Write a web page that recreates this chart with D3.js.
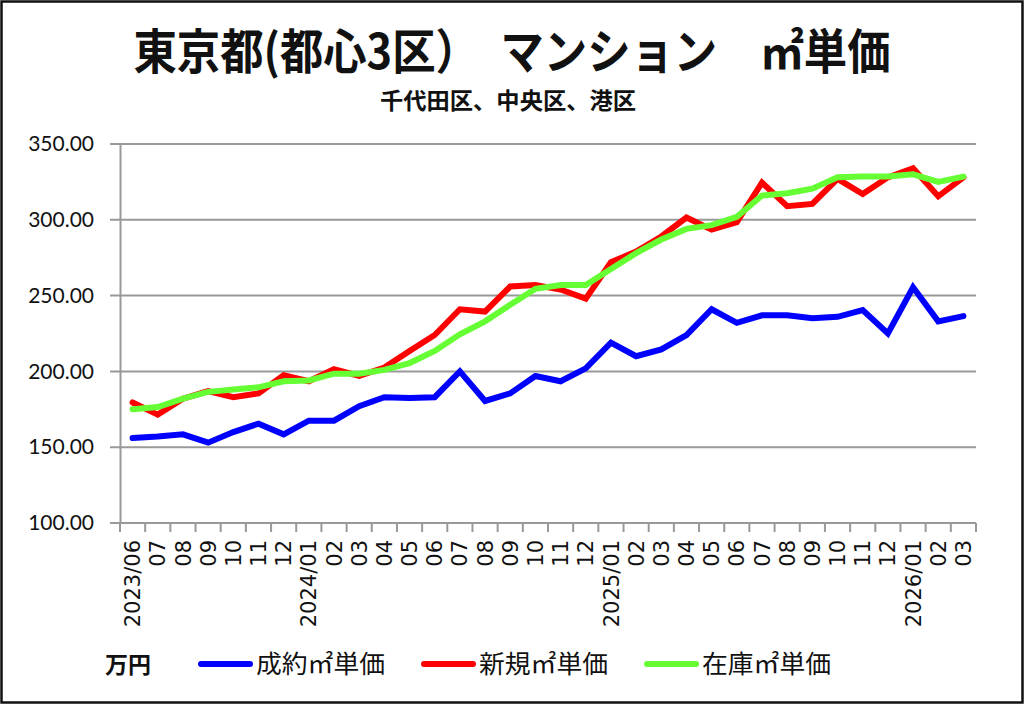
<!DOCTYPE html>
<html>
<head>
<meta charset="utf-8">
<script src="https://cdn.jsdelivr.net/npm/d3@7"></script>
<style>
  body { margin: 0; background: #fff; }
  svg { display: block; }
</style>
</head>
<body>
<div id="chart"></div>
<script>
// months on the x axis (first of each year carries the year)
const months = [
  "2023/06", "07", "08", "09", "10", "11", "12",
  "2024/01", "02", "03", "04", "05", "06", "07", "08", "09", "10", "11", "12",
  "2025/01", "02", "03", "04", "05", "06", "07", "08", "09", "10", "11", "12",
  "2026/01", "02", "03"
];

// 成約㎡単価 (万円)
const seiyaku = [
  156, 157, 158.5, 153, 160, 165.5, 158.5,
  167.5, 167.5, 177, 183, 182.5, 183, 200, 180.5, 185.5, 197, 193.5, 202,
  219, 210, 214.5, 224, 241, 232, 237, 237, 235, 236, 240.5, 225,
  255.5, 233, 236.5
];

// 新規㎡単価 (万円)
const shinki = [
  179.5, 171.5, 182, 187, 183, 185.5, 197.5,
  193.5, 201.5, 197, 202.5, 213.5, 224, 241, 239.5, 256, 257, 254, 248,
  272, 279, 289, 301.5, 293.5, 298.5, 324.5, 309, 310.5, 327, 317, 328,
  334, 315.5, 328
];

// 在庫㎡単価 (万円)
const zaiko = [
  175, 176.5, 182, 186.5, 188, 189.5, 193.5,
  194, 198.5, 198.5, 201, 205.5, 213.5, 224.5, 233, 244, 254.5, 257, 257,
  267.5, 278, 287, 294, 296.5, 302, 316, 317.5, 320.5, 328, 328.5, 328.5,
  330, 325, 328.5
];

const yTicks = [100, 150, 200, 250, 300, 350];

const seriesNames = ["成約㎡単価", "新規㎡単価", "在庫㎡単価"];
const seriesColors = ["#0000ff", "#ff0000", "#66ff33"];
const seriesValues = [seiyaku, shinki, zaiko];

const width = 1024;
const height = 705;
const plot = { left: 120, right: 976, top: 144, bottom: 523 };

const jp = "'Noto Sans CJK JP', 'Noto Sans', sans-serif";

const svg = d3
  .select("#chart")
  .append("svg")
  .attr("width", width)
  .attr("height", height);

svg.append("rect")
  .attr("width", width)
  .attr("height", height)
  .attr("fill", "#fff");

// outer frame
svg.append("rect")
  .attr("x", 1.5)
  .attr("y", 1.5)
  .attr("width", width - 3)
  .attr("height", height - 4)
  .attr("fill", "none")
  .attr("stroke", "#111")
  .attr("stroke-width", 2.5);

const x = d3.scaleBand()
  .domain(months.map((d, i) => i))
  .range([plot.left, plot.right]);

const y = d3.scaleLinear()
  .domain([100, 350])
  .range([plot.bottom, plot.top]);

const cx = (i) => x(i) + x.bandwidth() / 2;

// horizontal gridlines (they run through the outside tick marks)
svg.append("g")
  .selectAll("line")
  .data(yTicks)
  .enter()
  .append("line")
  .attr("x1", plot.left - 10)
  .attr("x2", plot.right)
  .attr("y1", (d) => y(d))
  .attr("y2", (d) => y(d))
  .attr("stroke", "#999")
  .attr("stroke-width", 2);

// y axis
const yAxis = svg.append("g")
  .attr("transform", `translate(${plot.left},0)`)
  .call(d3.axisLeft(y).tickValues(yTicks).tickFormat(d3.format(".2f")).tickSize(0).tickPadding(26));
yAxis.select(".domain").attr("stroke", "#999").attr("stroke-width", 2);
yAxis.selectAll("text")
  .style("font-family", "Lato, 'Open Sans', sans-serif")
  .style("font-size", "21px")
  .attr("fill", "#111");

// x axis: ticks at category boundaries, labels rotated
const xAxis = svg.append("g")
  .attr("transform", `translate(0,${plot.bottom})`)
  .call(d3.axisBottom(x).tickFormat((i) => months[i]).tickSize(0).tickPadding(0));
xAxis.select(".domain").remove();
xAxis.selectAll("text")
  .attr("transform", "rotate(-90)")
  .attr("text-anchor", "end")
  .attr("x", -17)
  .attr("y", 0)
  .attr("dy", "0.36em")
  .style("font-family", "'DejaVu Sans', sans-serif")
  .style("font-size", "21px")
  .attr("fill", "#111");

svg.append("line")
  .attr("x1", plot.left - 10)
  .attr("x2", plot.right)
  .attr("y1", plot.bottom)
  .attr("y2", plot.bottom)
  .attr("stroke", "#999")
  .attr("stroke-width", 2);

svg.append("g")
  .selectAll("line")
  .data(d3.range(months.length + 1))
  .enter()
  .append("line")
  .attr("x1", (i) => plot.left + i * x.step())
  .attr("x2", (i) => plot.left + i * x.step())
  .attr("y1", plot.bottom)
  .attr("y2", plot.bottom + 9)
  .attr("stroke", "#999")
  .attr("stroke-width", 2);

// series lines
const line = d3.line()
  .x((d, i) => cx(i))
  .y((d) => y(d));

svg.append("g")
  .selectAll("path")
  .data(seriesValues)
  .enter()
  .append("path")
  .attr("d", (d) => line(d))
  .attr("fill", "none")
  .attr("stroke", (d, i) => seriesColors[i])
  .attr("stroke-width", 6)
  .attr("stroke-linejoin", "miter")
  .attr("stroke-linecap", "round");

// title
svg.append("text")
  .attr("x", 512)
  .attr("y", 69)
  .attr("text-anchor", "middle")
  .attr("textLength", 757)
  .attr("lengthAdjust", "spacingAndGlyphs")
  .style("font-family", jp)
  .style("font-size", "48px")
  .style("font-weight", "bold")
  .attr("fill", "#111")
  .text("東京都(都心3区）　マンション　㎡単価");

svg.append("text")
  .attr("x", 508)
  .attr("y", 109)
  .attr("text-anchor", "middle")
  .attr("textLength", 256)
  .attr("lengthAdjust", "spacingAndGlyphs")
  .style("font-family", jp)
  .style("font-size", "23px")
  .style("font-weight", "bold")
  .attr("fill", "#111")
  .text("千代田区、中央区、港区");

// legend
svg.append("text")
  .attr("x", 105)
  .attr("y", 673)
  .style("font-family", jp)
  .style("font-size", "23px")
  .style("font-weight", "bold")
  .attr("fill", "#111")
  .text("万円");

const legendX = [199, 422, 645];
const legend = svg.append("g")
  .selectAll("g")
  .data(seriesNames)
  .enter()
  .append("g")
  .attr("transform", (d, i) => `translate(${legendX[i]},664)`);

legend.append("line")
  .attr("x1", 2)
  .attr("x2", 51)
  .attr("stroke", (d, i) => seriesColors[i])
  .attr("stroke-width", 6)
  .attr("stroke-linecap", "round");

legend.append("text")
  .attr("x", 57)
  .attr("y", 9)
  .attr("textLength", 129)
  .attr("lengthAdjust", "spacingAndGlyphs")
  .style("font-family", jp)
  .style("font-size", "25px")
  .attr("fill", "#111")
  .text((d) => d);
</script>
</body>
</html>
